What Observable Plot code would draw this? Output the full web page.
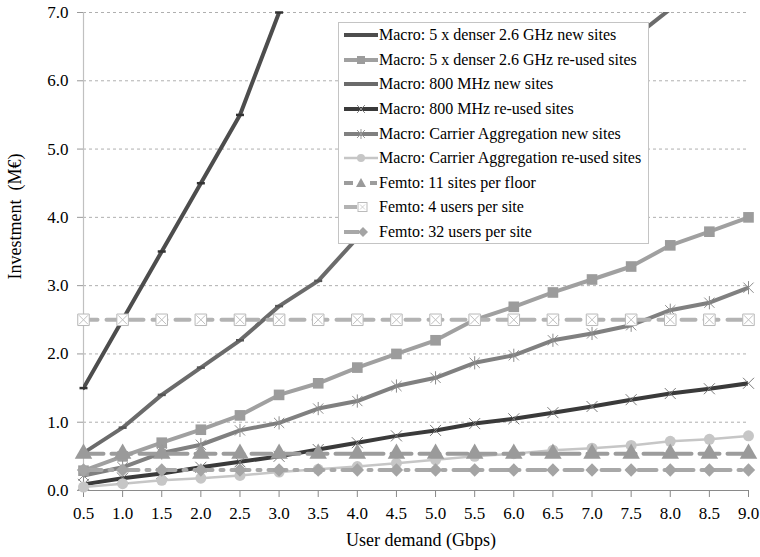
<!DOCTYPE html>
<html>
<head>
<meta charset="utf-8">
<script src="https://cdn.jsdelivr.net/npm/d3@7"></script>
<script src="https://cdn.jsdelivr.net/npm/@observablehq/plot@0.6"></script>
<style>
  body { margin: 0; background: #fff; }
  #wrap { position: relative; width: 760px; height: 557px; font-family: "Liberation Serif", "Times New Roman", serif; }
  #legend { position: absolute; left: 338px; top: 22px; width: 311px; height: 222px; background: #fff; border: 1px solid #c4c4c4; box-sizing: border-box; padding-top: 0px; }
  .row { display: flex; align-items: center; height: 24.6px; font-size: 16px; color: #000; white-space: nowrap; }
  .row svg { flex: none; margin-left: 4px; }
</style>
</head>
<body>
<div id="wrap"></div>
<script>
// ---- data ----
const demand = [0.5, 1.0, 1.5, 2.0, 2.5, 3.0, 3.5, 4.0, 4.5, 5.0, 5.5, 6.0, 6.5, 7.0, 7.5, 8.0, 8.5, 9.0];
const yTicks = [0, 1, 2, 3, 4, 5, 6, 7];
const seriesNames = [
  "Macro: 5 x denser 2.6 GHz new sites",
  "Macro: 5 x denser 2.6 GHz re-used sites",
  "Macro: 800 MHz new sites",
  "Macro: 800 MHz re-used sites",
  "Macro: Carrier Aggregation new sites",
  "Macro: Carrier Aggregation re-used sites",
  "Femto: 11 sites per floor",
  "Femto: 4 users per site",
  "Femto: 32 users per site"
];
const denserNew    = [1.5, 2.5, 3.5, 4.5, 5.5, 7.0];
const denserReused = [0.29, 0.5, 0.7, 0.89, 1.1, 1.4, 1.57, 1.8, 2.0, 2.2, 2.5, 2.69, 2.9, 3.09, 3.28, 3.59, 3.79, 4.0];
const mhz800New    = [0.55, 0.92, 1.4, 1.8, 2.2, 2.7, 3.07, 3.7, 4.1, 4.5, 4.95, 5.35, 5.8, 6.2, 6.6, 7.05];
const mhz800Reused = [0.09, 0.18, 0.25, 0.34, 0.42, 0.5, 0.6, 0.7, 0.8, 0.88, 0.98, 1.05, 1.14, 1.23, 1.33, 1.42, 1.49, 1.57];
const caNew        = [0.22, 0.34, 0.55, 0.67, 0.88, 0.99, 1.2, 1.31, 1.53, 1.65, 1.87, 1.98, 2.2, 2.3, 2.42, 2.64, 2.75, 2.97];
const caReused     = [0.05, 0.1, 0.15, 0.18, 0.22, 0.27, 0.31, 0.35, 0.4, 0.45, 0.5, 0.54, 0.59, 0.62, 0.66, 0.72, 0.75, 0.8];
const femto11      = [0.54, 0.54, 0.54, 0.54, 0.54, 0.54, 0.54, 0.54, 0.54, 0.54, 0.54, 0.54, 0.54, 0.54, 0.54, 0.54, 0.54, 0.54];
const femto4       = [2.5, 2.5, 2.5, 2.5, 2.5, 2.5, 2.5, 2.5, 2.5, 2.5, 2.5, 2.5, 2.5, 2.5, 2.5, 2.5, 2.5, 2.5];
const femto32      = [0.3, 0.3, 0.3, 0.3, 0.3, 0.3, 0.3, 0.3, 0.3, 0.3, 0.3, 0.3, 0.3, 0.3, 0.3, 0.3, 0.3, 0.3];

const allValues = [denserNew, denserReused, mhz800New, mhz800Reused, caNew, caReused, femto11, femto4, femto32];
const rows = allValues.map((vals) => vals.map((v, i) => ({x: demand[i], y: v})));

// ---- custom marker shapes ----
const rad = (size) => Math.sqrt(size / Math.PI);
const dashSym = {draw(ctx, size) { const r = rad(size); ctx.moveTo(-r, 0); ctx.lineTo(r, 0); }};
const xSym = {draw(ctx, size) { const r = rad(size); ctx.moveTo(-r, -r); ctx.lineTo(r, r); ctx.moveTo(-r, r); ctx.lineTo(r, -r); }};
const starSym = {draw(ctx, size) { const r = rad(size); const a = r * 0.85; ctx.moveTo(-a, -a); ctx.lineTo(a, a); ctx.moveTo(-a, a); ctx.lineTo(a, -a); ctx.moveTo(0, -r * 1.1); ctx.lineTo(0, r * 1.1); }};

// ---- styles ----
const S = [
  {stroke: "#4d4d4d", w: 4},
  {stroke: "#a0a0a0", w: 4},
  {stroke: "#6b6b6b", w: 4},
  {stroke: "#3a3a3a", w: 4},
  {stroke: "#808080", w: 4},
  {stroke: "#c6c6c6", w: 2.5},
  {stroke: "#9c9c9c", w: 4, dash: "20 8"},
  {stroke: "#b3b3b3", w: 4, dash: "14 9"},
  {stroke: "#a8a8a8", w: 4, dash: "18 8 3 8"}
];

const lineMark = (i) => Plot.line(rows[i], {x: "x", y: "y", stroke: S[i].stroke, strokeWidth: S[i].w, strokeDasharray: S[i].dash, clip: true, curve: "linear"});

const marks = [
  Plot.gridY(yTicks.filter(d => d > 0), {stroke: "#9a9a9a", strokeOpacity: 1, strokeWidth: 0.8, strokeDasharray: "3,3"}),
  Plot.ruleX([0.5], {stroke: "#c0c0c0", strokeWidth: 1.2}),
  Plot.axisY({ticks: yTicks, tickFormat: d3.format(".1f"), tickSize: 6, tickPadding: 9, fontSize: 17, label: null, stroke: "#999", fill: "#000"}),
  Plot.axisX({ticks: demand, tickFormat: d3.format(".1f"), tickSize: 7, tickPadding: 9, fontSize: 17, label: null, stroke: "#888", fill: "#000"}),
  Plot.ruleY([0], {stroke: "#8a8a8a", strokeWidth: 1.2}),
  // lines
  lineMark(0), lineMark(1), lineMark(2), lineMark(3), lineMark(4), lineMark(5),
  // markers macro
  Plot.dot(rows[0], {x: "x", y: "y", symbol: dashSym, r: 4, fill: "none", stroke: "#333", strokeWidth: 2.5}),
  Plot.dot(rows[1], {x: "x", y: "y", symbol: "square", r: 6, fill: "#9c9c9c", stroke: "none"}),
  Plot.dot(rows[2].filter(d => d.y <= 7), {x: "x", y: "y", symbol: dashSym, r: 4, fill: "none", stroke: "#555", strokeWidth: 2.5}),
  Plot.dot(rows[3], {x: "x", y: "y", symbol: xSym, r: 5.5, fill: "none", stroke: "#7a7a7a", strokeWidth: 1}),
  Plot.dot(rows[4], {x: "x", y: "y", symbol: starSym, r: 6, fill: "none", stroke: "#8c8c8c", strokeWidth: 1}),
  Plot.dot(rows[5], {x: "x", y: "y", symbol: "circle", r: 5.5, fill: "#c6c6c6", stroke: "none"}),
  // femto lines
  lineMark(6), lineMark(7), lineMark(8),
  Plot.dot(rows[6], {x: "x", y: "y", symbol: "triangle", r: 6.5, fill: "#9a9a9a", stroke: "none"}),
  Plot.dot(rows[7], {x: "x", y: "y", symbol: "square", r: 6.5, fill: "#fff", stroke: "#b8b8b8", strokeWidth: 1}),
  Plot.dot(rows[7], {x: "x", y: "y", symbol: xSym, r: 4.5, fill: "none", stroke: "#c0c0c0", strokeWidth: 1}),
  Plot.dot(rows[8], {x: "x", y: "y", symbol: "diamond2", r: 6, fill: "#a4a4a4", stroke: "none"}),
  // titles
  Plot.text(["Investment\u00a0 (M€)"], {text: d => d, frameAnchor: "left", rotate: -90, dx: -68, dy: 28, fontSize: 18, fill: "#000"}),
  Plot.text(["User demand (Gbps)"], {text: d => d, frameAnchor: "bottom", dx: 5, dy: 55, fontSize: 18, fill: "#000"})
];

const chart = Plot.plot({
  width: 760,
  height: 557,
  marginLeft: 83,
  marginRight: 12,
  marginTop: 12,
  marginBottom: 67,
  style: {fontFamily: "'Liberation Serif', 'Times New Roman', serif", fontSize: "17px", background: "#fff", color: "#000"},
  x: {type: "linear", domain: [0.5, 9.0]},
  y: {type: "linear", domain: [0, 7]},
  marks
});
const wrap = document.getElementById("wrap");
wrap.appendChild(chart);

// ---- legend ----
const legendSwatch = [
  `<line x1="1" y1="12" x2="35" y2="12" stroke="${S[0].stroke}" stroke-width="4"/>`,
  `<line x1="1" y1="12" x2="35" y2="12" stroke="${S[1].stroke}" stroke-width="4"/><rect x="14" y="8" width="8" height="8" fill="#9c9c9c"/>`,
  `<line x1="1" y1="12" x2="35" y2="12" stroke="${S[2].stroke}" stroke-width="4"/>`,
  `<line x1="1" y1="12" x2="35" y2="12" stroke="${S[3].stroke}" stroke-width="4"/><path d="M14,8L22,16M14,16L22,8" stroke="#888" stroke-width="1"/>`,
  `<line x1="1" y1="12" x2="35" y2="12" stroke="${S[4].stroke}" stroke-width="4"/><path d="M14,8L22,16M14,16L22,8M18,7L18,17" stroke="#999" stroke-width="1"/>`,
  `<line x1="1" y1="12" x2="35" y2="12" stroke="${S[5].stroke}" stroke-width="2.5"/><circle cx="18" cy="12" r="4" fill="#c6c6c6"/>`,
  `<line x1="1" y1="12" x2="10" y2="12" stroke="${S[6].stroke}" stroke-width="4"/><line x1="27" y1="12" x2="34" y2="12" stroke="${S[6].stroke}" stroke-width="4"/><path d="M18,7L23,16L13,16Z" fill="#9a9a9a"/>`,
  `<line x1="1" y1="12" x2="14" y2="12" stroke="${S[7].stroke}" stroke-width="4"/><rect x="15" y="7.5" width="9" height="9" fill="#fff" stroke="#bbb"/><path d="M17,9.5L22,14.5M17,14.5L22,9.5" stroke="#c4c4c4" stroke-width="0.8"/>`,
  `<line x1="1" y1="12" x2="16" y2="12" stroke="${S[8].stroke}" stroke-width="4"/><path d="M20,7L25,12L20,17L15,12Z" fill="#a4a4a4"/>`
];
const legend = document.createElement("div");
legend.id = "legend";
legend.innerHTML = seriesNames.map((n, i) =>
  `<div class="row"><svg width="36" height="24" viewBox="0 0 36 24">${legendSwatch[i]}</svg><span>${n}</span></div>`
).join("");
wrap.appendChild(legend);
</script>
</body>
</html>
